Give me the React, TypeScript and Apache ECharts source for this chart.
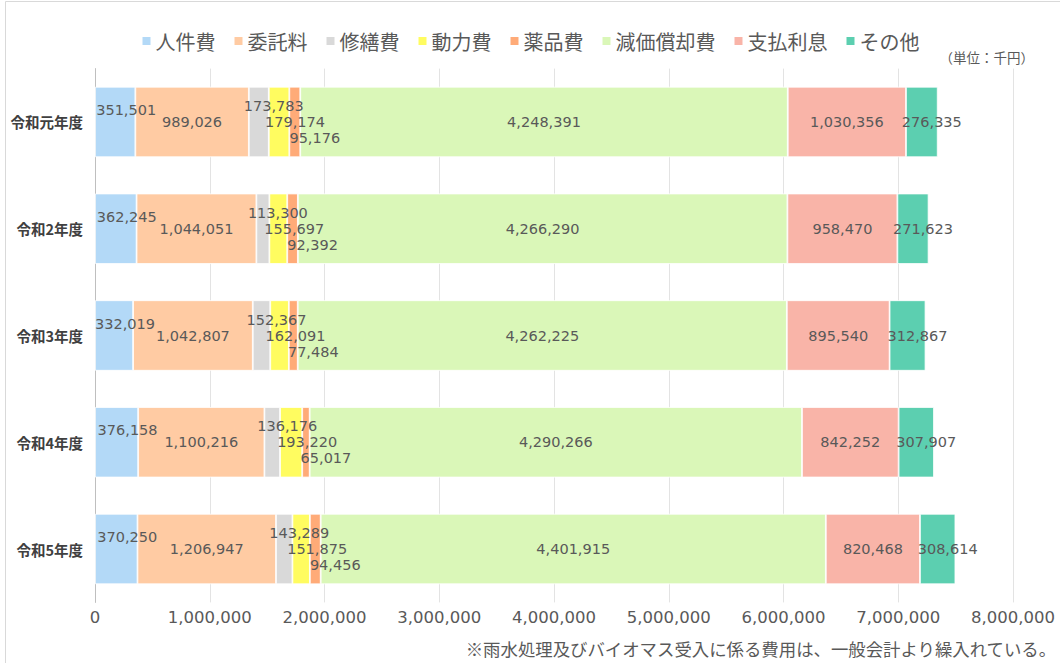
import React, { useEffect, useRef } from "react";
import * as echarts from "echarts";

const categories = ["令和元年度", "令和2年度", "令和3年度", "令和4年度", "令和5年度"];
const seriesNames = ["人件費", "委託料", "修繕費", "動力費", "薬品費", "減価償却費", "支払利息", "その他"];
const jinkenhi = [351501, 362245, 332019, 376158, 370250];
const itakuryo = [989026, 1044051, 1042807, 1100216, 1206947];
const shuzenhi = [173783, 113300, 152367, 136176, 143289];
const doryokuhi = [179174, 155697, 162091, 193220, 151875];
const yakuhinhi = [95176, 92392, 77484, 65017, 94456];
const genkashokyakuhi = [4248391, 4266290, 4262225, 4290266, 4401915];
const shiharairisoku = [1030356, 958470, 895540, 842252, 820468];
const sonota = [276335, 271623, 312867, 307907, 308614];
const xTicks = [0, 1000000, 2000000, 3000000, 4000000, 5000000, 6000000, 7000000, 8000000];

const seriesData = [jinkenhi, itakuryo, shuzenhi, doryokuhi, yakuhinhi, genkashokyakuhi, shiharairisoku, sonota];
const colors = ["#B3D9F7", "#FFCBA3", "#D9D9D9", "#FFFC60", "#FFAB78", "#DAF7B8", "#F9B4A8", "#5CCFB0"];
const labelOffsets: number[][] = [[11, -12], [0, 0], [15, -16], [16, 0], [20, 16], [0, 0], [0, 0], [10, 0]];

export default function App() {
  const ref = useRef<HTMLDivElement>(null);
  useEffect(() => {
    if (!ref.current) return;
    const chart = echarts.init(ref.current, null, { renderer: "svg" });
    const numFont = "'DejaVu Sans', 'Noto Sans CJK JP', sans-serif";
    const jpFont = "'Noto Sans CJK JP', sans-serif";
    chart.setOption({
      animation: false,
      backgroundColor: "#ffffff",
      color: colors,
      graphic: [
        {
          type: "rect",
          shape: { x: 5.5, y: 1.5, width: 1100, height: 700 },
          style: { fill: "none", stroke: "#d9d9d9", lineWidth: 1 },
          silent: true,
          z: -10,
        },
        {
          type: "text",
          right: 26,
          top: 50,
          style: { text: "（単位：千円）", font: `13.5px ${jpFont}`, fill: "#595959" },
        },
        {
          type: "text",
          right: 3,
          top: 640,
          style: { text: "※雨水処理及びバイオマス受入に係る費用は、一般会計より繰入れている。", font: `17.4px ${jpFont}`, fill: "#595959" },
        },
      ],
      legend: {
        top: 26,
        left: "center",
        itemWidth: 10,
        itemHeight: 10,
        itemGap: 17,
        icon: "rect",
        textStyle: { fontFamily: jpFont, fontSize: 20, color: "#595959", padding: [0, 0, 0, -1] },
        data: seriesNames,
      },
      grid: { left: 95, right: 47, top: 68.6, bottom: 60.6, containLabel: false },
      xAxis: {
        type: "value",
        min: xTicks[0],
        max: xTicks[xTicks.length - 1],
        interval: xTicks[1] - xTicks[0],
        axisLine: { show: false },
        axisTick: { show: false },
        splitLine: { show: true, lineStyle: { color: "#e3e3e3", width: 1 } },
        axisLabel: {
          margin: 7,
          fontFamily: numFont,
          fontSize: 16.5,
          color: "#595959",
          formatter: (v: number) => v.toLocaleString("en-US"),
        },
      },
      yAxis: {
        type: "category",
        inverse: true,
        data: categories,
        axisLine: { show: true, lineStyle: { color: "#bfbfbf", width: 1 } },
        axisTick: { show: false },
        axisLabel: { margin: 12, fontFamily: jpFont, fontSize: 14.5, fontWeight: "bold", color: "#404040" },
      },
      series: seriesNames.map((name, i) => ({
        name,
        type: "bar",
        stack: "total",
        barCategoryGap: "34%",
        data: seriesData[i],
        itemStyle: { color: colors[i], borderColor: "#ffffff", borderWidth: 0.8 },
        label: {
          show: true,
          position: "inside",
          offset: labelOffsets[i],
          fontFamily: numFont,
          fontSize: 14.5,
          color: "#595959",
          formatter: (p: any) => Number(p.value).toLocaleString("en-US"),
        },
      })),
    });
    return () => chart.dispose();
  }, []);
  return <div ref={ref} style={{ position: "fixed", left: 0, top: 0, width: 1060, height: 663 }} />;
}
